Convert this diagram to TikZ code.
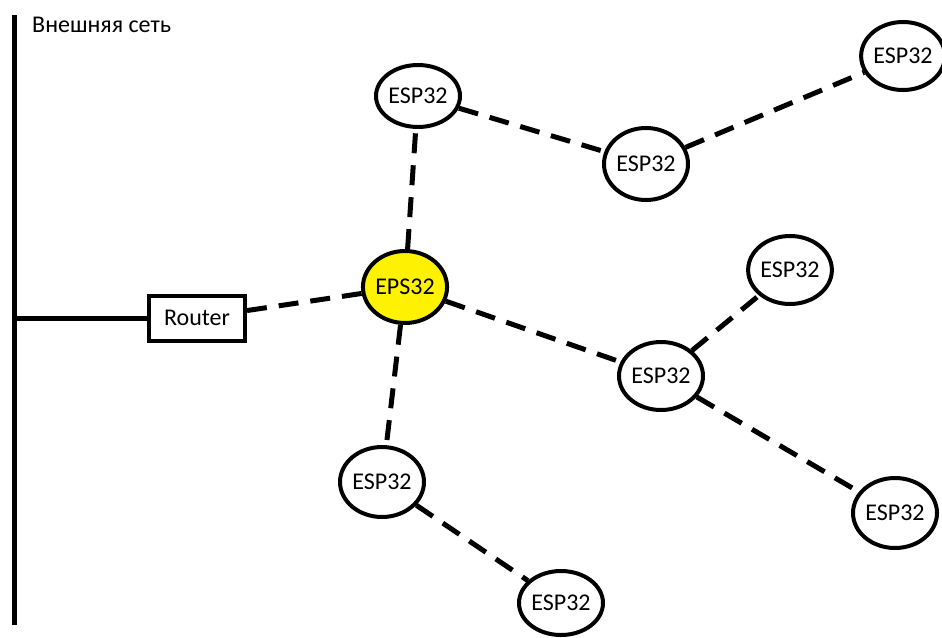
\documentclass[tikz,border=0pt]{standalone}
\usepackage{fontspec}
\setmainfont{Carlito}
\usetikzlibrary{shapes.geometric}
\begin{document}
\begin{tikzpicture}[x=1pt,y=-1pt,
  every node/.style={font=\fontsize{24}{27}\selectfont},
  esp/.style={ellipse,draw,line width=4pt,inner sep=0pt,fill=white,
              minimum width=84pt,minimum height=68pt},
  link/.style={line width=5pt,dash pattern=on 20pt off 12pt},
  bus/.style={line width=5pt}]
\useasboundingbox (0,0) rectangle (942,637);

% external network bus
\coordinate (bustop) at (14,15);
\coordinate (busbot) at (14,625);
\coordinate (tap) at (14,318);
\draw[bus] (bustop) -- (busbot);
\node[anchor=west,inner sep=0pt] (ext) at (32,25) {Внешняя сеть};

% router
\node[draw,line width=4pt,minimum width=96pt,minimum height=45pt,inner sep=0pt] (router) at (197,318) {Router};

% root node
\node[esp,fill=yellow,minimum width=80pt,minimum height=72pt] (root) at (405,287) {EPS32};

% mesh nodes
\node[esp,minimum height=62pt] (n1) at (418,96) {ESP32};
\node[esp,minimum height=72pt] (n2) at (646,164) {ESP32};
\node[esp,minimum width=74pt] (n3) at (903,56) {ESP32};
\node[esp,minimum width=80pt] (n4) at (790,270) {ESP32};
\node[esp] (n5) at (661,376) {ESP32};
\node[esp,minimum height=70pt] (n6) at (895,513) {ESP32};
\node[esp,minimum height=70pt] (n7) at (382,482) {ESP32};
\node[esp,minimum height=64pt] (n8) at (561,603) {ESP32};

% wired uplink
\draw[bus] (tap) -- (router);

% wireless links
\draw[link] (router) -- (root);
\draw[link] (root) -- (n1);
\draw[link] (n1) -- (n2);
\draw[link] (n2) -- (n3);
\draw[link] (root) -- (n5);
\draw[link] (n5) -- (n4);
\draw[link] (n5) -- (n6);
\draw[link] (root) -- (n7);
\draw[link] (n7) -- (n8);
\end{tikzpicture}
\end{document}
